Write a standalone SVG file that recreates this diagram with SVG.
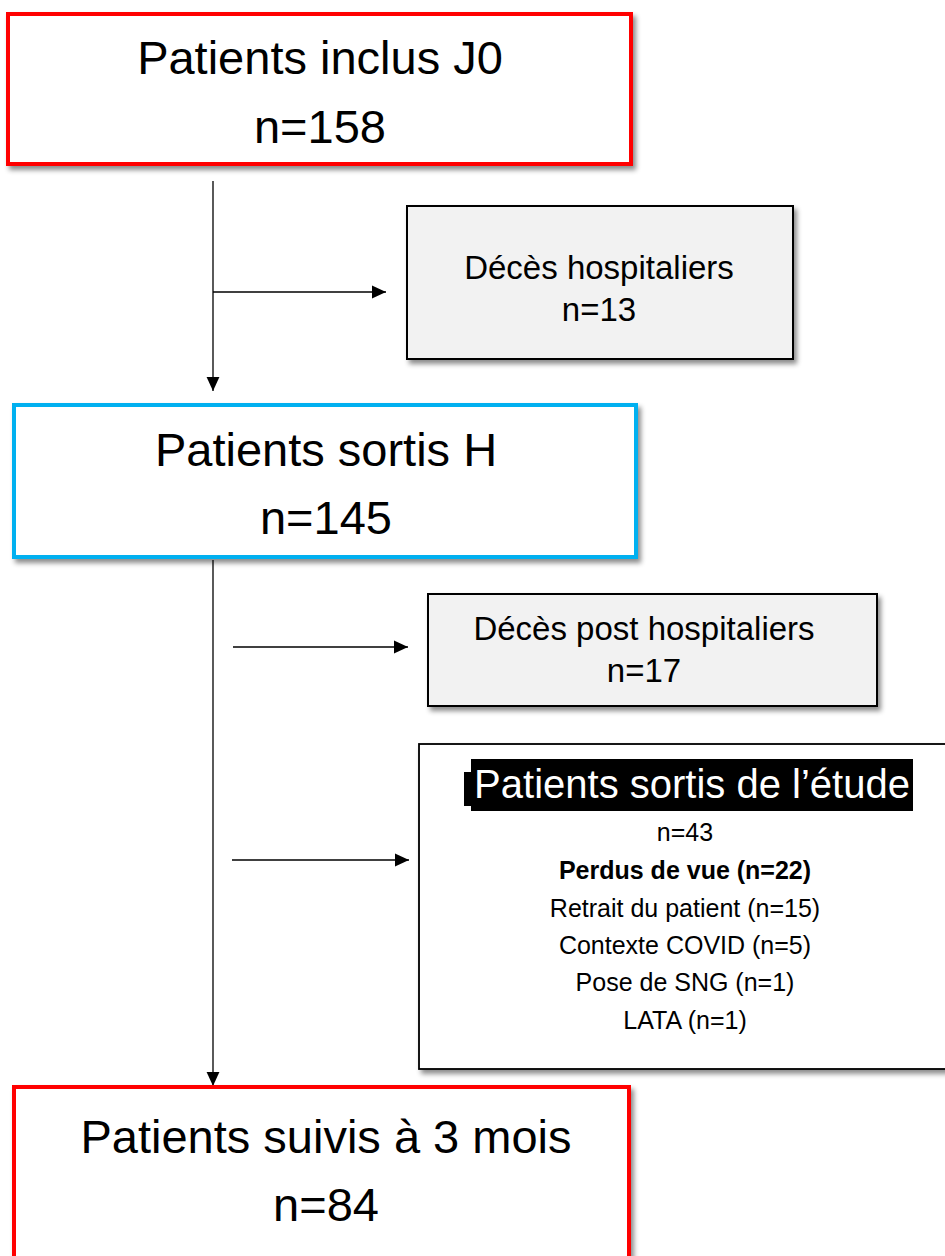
<svg xmlns="http://www.w3.org/2000/svg" width="945" height="1256" viewBox="0 0 945 1256">
<style>
text{font-family:"Liberation Sans",Arial,sans-serif;fill:#000;text-anchor:middle}
.big{font-size:47px}
.mid{font-size:33px}
.sm{font-size:25px}
.conn{stroke:#000;stroke-width:1.3;fill:none;marker-end:url(#ah)}
</style>
<defs>
<marker id="ah" viewBox="0 0 12 12" refX="12" refY="6" markerWidth="14" markerHeight="14" markerUnits="userSpaceOnUse" orient="auto"><path d="M0,0.5L12,6L0,11.5z" fill="#000"/></marker>
<filter id="sh" x="-5%" y="-5%" width="115%" height="120%"><feDropShadow dx="3" dy="4" stdDeviation="2.5" flood-color="#000" flood-opacity="0.45"/></filter>
</defs>
<g id="connectors">
<line x1="213" y1="181" x2="213" y2="391" class="conn"/>
<line x1="213" y1="292" x2="386" y2="292" class="conn"/>
<line x1="213" y1="560" x2="213" y2="1086" class="conn"/>
<line x1="233" y1="647" x2="408" y2="647" class="conn"/>
<line x1="232" y1="860" x2="409" y2="860" class="conn"/>
</g>
<g id="n1">
<rect x="8" y="14" width="623" height="150" fill="#fff" stroke="#ff0000" stroke-width="4" filter="url(#sh)"/>
<text class="big" x="320" y="74">Patients inclus J0</text>
<text class="big" x="320" y="143">n=158</text>
</g>
<g id="n2">
<rect x="407" y="206" width="386" height="153" fill="#f2f2f2" stroke="#000" stroke-width="2" filter="url(#sh)"/>
<text class="mid" x="599" y="279">Décès hospitaliers</text>
<text class="mid" x="599" y="321">n=13</text>
</g>
<g id="n3">
<rect x="14" y="405" width="622" height="152" fill="#fff" stroke="#00b0f0" stroke-width="4" filter="url(#sh)"/>
<text class="big" x="326" y="466">Patients sortis H</text>
<text class="big" x="326" y="534">n=145</text>
</g>
<g id="n4">
<rect x="428" y="594" width="449" height="112" fill="#f2f2f2" stroke="#000" stroke-width="2" filter="url(#sh)"/>
<text class="mid" x="644" y="640">Décès post hospitaliers</text>
<text class="mid" x="644" y="682">n=17</text>
</g>
<g id="n5">
<rect x="419" y="744" width="540" height="325" fill="#fff" stroke="#000" stroke-width="1.8" filter="url(#sh)"/>
<path d="M471,759H913V811H471V806H464V772H471z" fill="#000"/>
<text x="692" y="798" style="font-size:40px;fill:#fff">Patients sortis de l’étude</text>
<text class="sm" x="685" y="841">n=43</text>
<text class="sm" x="685" y="879" font-weight="bold">Perdus de vue (n=22)</text>
<text class="sm" x="685" y="917">Retrait du patient (n=15)</text>
<text class="sm" x="685" y="954">Contexte COVID (n=5)</text>
<text class="sm" x="685" y="991">Pose de SNG (n=1)</text>
<text class="sm" x="685" y="1029">LATA (n=1)</text>
</g>
<g id="n6">
<rect x="14" y="1087" width="615" height="190" fill="#fff" stroke="#ff0000" stroke-width="4" filter="url(#sh)"/>
<text class="big" x="326" y="1153">Patients suivis à 3 mois</text>
<text class="big" x="326" y="1221">n=84</text>
</g>
</svg>
